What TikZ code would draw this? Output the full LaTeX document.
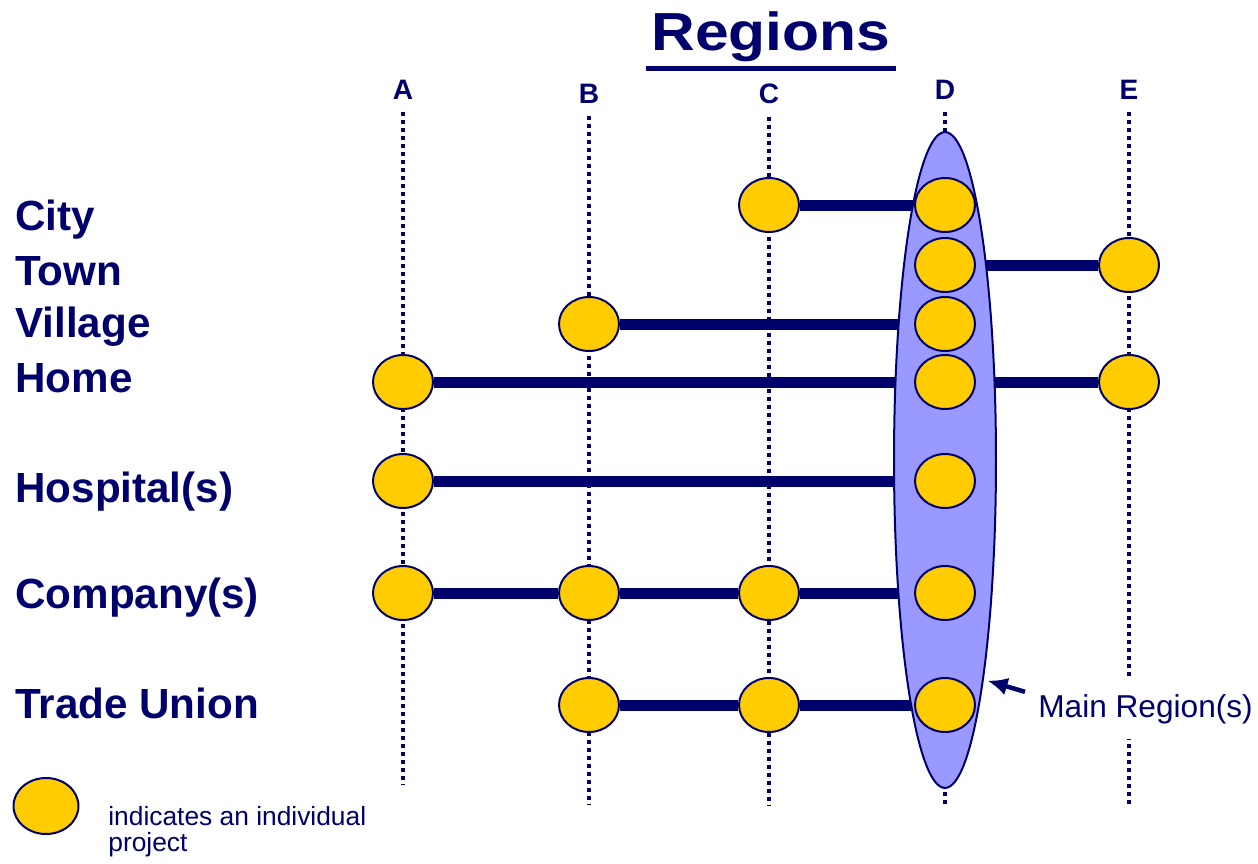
\documentclass[tikz,border=0pt]{standalone}
\usepackage{fontspec}
\setmainfont{Liberation Sans}
\usetikzlibrary{shapes.geometric,arrows.meta}
\definecolor{navy}{RGB}{0,0,108}
\definecolor{gold}{RGB}{255,204,0}
\definecolor{lilac}{RGB}{153,153,255}
\pgfdeclarelayer{lines}
\pgfdeclarelayer{region}
\pgfsetlayers{lines,region,main}

\begin{document}
\begin{tikzpicture}[x=0.02cm,y=-0.02cm,
		proj/.style={ellipse,draw=navy,fill=gold,line width=0.04cm,minimum width=1.2cm,minimum height=1.08cm,inner sep=0pt},
		link/.style={navy,line width=0.22cm},
		guide/.style={navy,line width=0.075cm,dash pattern=on 0.08cm off 0.08cm,shorten <=0.26cm},
		rowlbl/.style={anchor=base west,inner sep=0pt,text=navy,font=\fontsize{24}{24}\selectfont\bfseries},
		collbl/.style={anchor=base,inner sep=0pt,text=navy,font=\fontsize{16}{16}\selectfont\bfseries}]
		
		\useasboundingbox (0,0) rectangle (1258,863);
		
		% title
		\node[anchor=base,inner xsep=0.1cm,inner ysep=0.14cm,text=navy,font=\fontsize{30.5}{30.5}\selectfont\bfseries] (title) at (771,50) {\scalebox{1.13}[1]{Regions}};
		\draw[navy,line width=0.11cm] (title.south west) -- (title.south east);
		
		% columns
		\node[collbl] (A) at (403,99) {A};
		\node[collbl] (B) at (589,103) {B};
		\node[collbl] (C) at (769,103) {C};
		\node[collbl] (D) at (945,99) {D};
		\node[collbl] (E) at (1129,99) {E};
		\coordinate (endA) at (403,785);
		\coordinate (endB) at (589,805);
		\coordinate (endC) at (769,805);
		\coordinate (endD) at (945,805);
		\coordinate (endE) at (1129,805);
		
		% rows
		\node[rowlbl] (city) at (15,230) {City};
		\node[rowlbl] (town) at (15,285) {Town};
		\node[rowlbl] (village) at (15,337) {Village};
		\node[rowlbl] (home) at (15,392) {Home};
		\node[rowlbl] (hospital) at (15,502) {Hospital(s)};
		\node[rowlbl] (company) at (15,608) {Company(s)};
		\node[rowlbl] (union) at (15,718) {Trade Union};
		
		% projects
		\node[proj] (cityC) at (769,205) {};
		\node[proj] (cityD) at (945,205) {};
		\node[proj] (townD) at (945,265) {};
		\node[proj] (townE) at (1129,265) {};
		\node[proj] (villB) at (589,324) {};
		\node[proj] (villD) at (945,324) {};
		\node[proj] (homeA) at (403,382) {};
		\node[proj] (homeD) at (945,382) {};
		\node[proj] (homeE) at (1129,382) {};
		\node[proj] (hospA) at (403,481) {};
		\node[proj] (hospD) at (945,481) {};
		\node[proj] (compA) at (403,593) {};
		\node[proj] (compB) at (589,593) {};
		\node[proj] (compC) at (769,593) {};
		\node[proj] (compD) at (945,593) {};
		\node[proj] (unionB) at (589,705) {};
		\node[proj] (unionC) at (769,705) {};
		\node[proj] (unionD) at (945,705) {};
		
		\begin{pgfonlayer}{region}
			\node[ellipse,draw=navy,fill=lilac,line width=0.04cm,minimum width=2.04cm,minimum height=13.12cm,inner sep=0pt] (main) at (945,460) {};
		\end{pgfonlayer}
		
		\begin{pgfonlayer}{lines}
			\draw[guide] (A.south) -- (endA);
			\draw[guide] (B.south) -- (endB);
			\draw[guide] (C.south) -- (endC);
			\draw[guide] (D.south) -- (endD);
			\draw[guide] (E.south) -- (endE);
			
			\draw[link] (cityC) -- (cityD);
			\draw[link] (townD) -- (townE);
			\draw[link] (villB) -- (villD);
			\draw[link] (homeA) -- (homeD) -- (homeE);
			\draw[link] (hospA) -- (hospD);
			\draw[link] (compA) -- (compB) -- (compC) -- (compD);
			\draw[link] (unionB) -- (unionC) -- (unionD);
		\end{pgfonlayer}
		
		\node[anchor=base west,inner xsep=0.04cm,inner ysep=0.3cm,fill=white,text=navy,font=\fontsize{18}{18}\selectfont] (mainlbl) at (1036,717) {Main Region(s)};
		\draw[navy,line width=0.09cm,-{Latex[length=0.4cm,width=0.36cm]},shorten >=0.08cm] ([shift={(-0.22cm,0.34cm)}]mainlbl.west) -- (main.-80);
		
		% legend
		\node[proj,minimum width=1.3cm,minimum height=1.12cm] (key) at (46,806) {};
		\node[anchor=west,align=left,inner sep=0pt,text=navy,font=\fontsize{15}{14.7}\selectfont] (keytext) at (108,832) {indicates an individual\\project};
		
	\end{tikzpicture}
\end{document}
